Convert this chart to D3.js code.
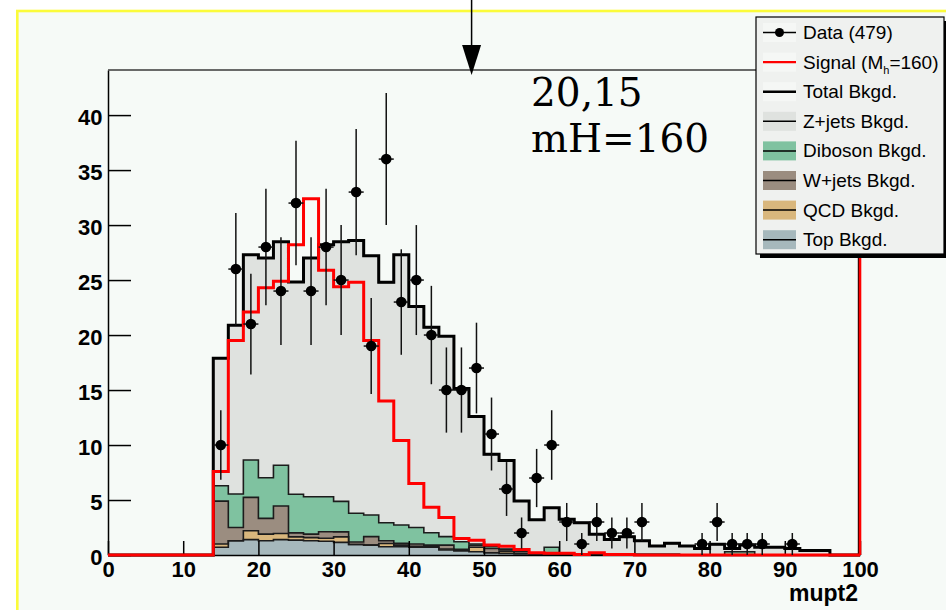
<!DOCTYPE html>
<html><head><meta charset="utf-8">
<script src="https://cdn.jsdelivr.net/npm/d3@7"></script>
<style>
html,body{margin:0;padding:0;background:#fff;}
svg{display:block;}
</style></head>
<body>
<svg id="c" width="946" height="610"></svg>
<script>
// ---- histogram binning: 50 bins of width 2 on mupt2 [0,100] ----
const binWidth = 2;
const binLow = d3.range(0, 100, binWidth);

// observed events per bin (479 total)
const dataCounts = [0,0,0,0,0,0,0,10,26,21,28,24,32,24,28,25,33,19,36,23,25,20,15,15,17,11,6,2,7,10,3,1,3,2,2,3,0,0,0,1,3,1,1,1,0,1,0,0,0,0];

// Higgs signal, M_h = 160
const signalMh160 = [0,0,0,0,0,0,0,7.6,19.5,22.1,24.3,24.9,28.2,32.4,25.9,24.4,24.8,19.5,14.0,10.4,6.5,4.35,3.4,1.5,1.35,0.9,0.8,0.5,0.2,0.15,0.15,0.05,0.2,0.05,0.05,0,0,0,0,0,0,0,0,0,0,0,0,0,0,0];

// background components (stacked bottom to top: Top, QCD, W+jets, Diboson, Z+jets)
const topBkg = [0,0,0,0,0,0,0,0.7,1.3,1.4,1.3,1.4,1.35,1.3,1.25,1.15,0.95,0.9,0.75,0.75,0.7,0.7,0.45,0.4,0.3,0.2,0.15,0.12,0.1,0.1,0.08,0.05,0.05,0.05,0.04,0.04,0.03,0.03,0.02,0.02,0.02,0,0,0,0,0,0,0,0,0];
const qcdBkg = [0,0,0,0,0,0,0,0.3,0,0.8,0.6,0.55,0.3,0.28,0.27,0.5,0,0,0.3,0.15,0.1,0.1,0.1,0,0.4,0,0.2,0,0,0,0,0,0,0,0,0,0,0,0,0,0,0,0,0,0,0,0,0,0,0];
const wjetsBkg = [0,0,0,0,0,0,0,3.9,1.2,3.04,1.43,2.51,0.36,0.32,0.6,0.45,0.23,0.77,0.24,0.16,0.2,0.1,0.35,0.12,0.18,0.4,0.15,0.18,0.05,0.05,0.02,0,0,0,0,0,0,0,0,0,0,0,0,0,0,0,0,0,0,0];
const dibosonBkg = [0,0,0,0,0,0,0,1.4,3.05,3.4,3.7,3.7,3.52,3.4,3.18,2.78,2.61,1.97,1.64,1.67,1.5,1.13,0.77,0.68,0.12,0.2,0.05,0.05,0.05,0.55,0.05,0.05,0.05,0,0,0,0,0,0,0,0,0.3,0.3,0,0,0,0,0,0,0];
const zjetsBkg = [0,0,0,0,0,0,0,11.6,15.35,18.66,19.97,20.32,19.3,21.7,22.9,23.6,24.81,23.56,21.86,24.57,20.1,18.67,18.23,13.95,11.6,8.35,8.05,4.55,3.0,3.6,3.09,2.84,1.78,1.37,1.63,1.26,0.79,1.03,0.8,0.58,0.95,0.3,0.6,0.7,0.7,0.6,0.4,0.4,0,0];

const legendLabels = ["Data (479)", "Signal (M_h=160)", "Total Bkgd.", "Z+jets Bkgd.", "Diboson Bkgd.", "W+jets Bkgd.", "QCD Bkgd.", "Top Bkgd."];
const xTickLabels = d3.range(0, 101, 10);
const yTickLabels = d3.range(0, 41, 5);
const cutValue = 48.35;

// ---- drawing ----
const W = 946, H = 610;
const svg = d3.select('#c');
const x = d3.scaleLinear().domain([0, 100]).range([108, 860]);
const y = d3.scaleLinear().domain([0, 44.1]).range([555, 70]);

const colors = {
  top: '#a6b8bc', qcd: '#d9b77d', wjets: '#9b8d80', diboson: '#7fc2a0', zjets: '#dfe2df'
};

// canvas
svg.append('rect').attr('width', W).attr('height', H).attr('fill', '#fff');
svg.append('rect').attr('x', 17.3).attr('y', 11).attr('width', 1000).attr('height', 1000)
  .attr('fill', '#f6faf7').attr('stroke', '#fbfb3a').attr('stroke-width', 2.6);

// stacked backgrounds
const keys = ['top', 'qcd', 'wjets', 'diboson', 'zjets'];
const rows = binLow.map((lo, i) => ({
  lo, top: topBkg[i], qcd: qcdBkg[i], wjets: wjetsBkg[i], diboson: dibosonBkg[i], zjets: zjetsBkg[i]
}));
const layers = d3.stack().keys(keys)(rows);

function stepPoints(pairs) {
  const pts = pairs.map((p, i) => ({ x: binLow[i], y0: p[0], y1: p[1] }));
  const last = pts[pts.length - 1];
  pts.push({ x: last.x + binWidth, y0: last.y0, y1: last.y1 });
  return pts;
}
const area = d3.area().x(d => x(d.x)).y0(d => y(d.y0)).y1(d => y(d.y1)).curve(d3.curveStepAfter);
const topLine = d3.line().x(d => x(d.x)).y(d => y(d.y1)).curve(d3.curveStepAfter);

const gStack = svg.append('g');
layers.forEach(layer => {
  const pts = stepPoints(layer.map(d => [d[0], d[1]]));
  gStack.append('path').attr('d', area(pts)).attr('fill', colors[layer.key]).attr('stroke', 'none');
});
layers.forEach(layer => {
  const pts = stepPoints(layer.map(d => [d[0], d[1]]));
  gStack.append('path').attr('d', topLine(pts)).attr('fill', 'none')
    .attr('stroke', '#1c1c1c').attr('stroke-width', 1.6);
});

// total background outline
const totalLayer = layers[layers.length - 1];
svg.append('path').attr('d', topLine(stepPoints(totalLayer.map(d => [0, d[1]]))))
  .attr('fill', 'none').attr('stroke', '#000').attr('stroke-width', 3);

// axes (ticks point inward)
const axisFont = g => g.selectAll('text')
  .attr('font-family', '"Liberation Sans", Arial, sans-serif')
  .attr('font-weight', 'bold').attr('font-size', 22).attr('fill', '#000');

const gx = svg.append('g').attr('transform', `translate(0,${y(0)})`);
gx.call(d3.axisBottom(x).tickValues(d3.range(0, 101, 2)).tickSize(-7).tickSizeOuter(0).tickFormat(''));
gx.call(d3.axisBottom(x).tickValues(xTickLabels).tickSize(-14).tickSizeOuter(0).tickPadding(6.5).tickFormat(d3.format('d')));
gx.call(axisFont);
gx.selectAll('line,path').attr('stroke', '#000').attr('stroke-width', 1.5);

const gy = svg.append('g').attr('transform', `translate(${x(0)},0)`);
gy.call(d3.axisLeft(y).tickValues(d3.range(0, 45, 1)).tickSize(-11).tickSizeOuter(0).tickFormat(''));
gy.call(d3.axisLeft(y).tickValues(yTickLabels).tickSize(-23).tickSizeOuter(0).tickPadding(5.5).tickFormat(d3.format('d')));
gy.call(axisFont);
gy.selectAll('text').attr('dy', '0.45em');
gy.selectAll('line,path').attr('stroke', '#000').attr('stroke-width', 1.5);

// frame top and right edge
svg.append('line').attr('x1', x(0)).attr('x2', x(100)).attr('y1', y(44.1)).attr('y2', y(44.1))
  .attr('stroke', '#3a3a3a').attr('stroke-width', 1.6);
svg.append('line').attr('x1', x(100) - 1.5).attr('x2', x(100) - 1.5).attr('y1', y(0)).attr('y2', y(44.1))
  .attr('stroke', '#000').attr('stroke-width', 1.4);

// signal
svg.append('path').attr('d', topLine(stepPoints(signalMh160.map(v => [0, v]))))
  .attr('fill', 'none').attr('stroke', '#ff0000').attr('stroke-width', 3);
svg.append('line').attr('x1', x(100)).attr('x2', x(100)).attr('y1', y(0)).attr('y2', y(44.1))
  .attr('stroke', '#ff0000').attr('stroke-width', 2.6);

// data points with Poisson error bars
const pts = binLow.map((lo, i) => ({ c: lo + binWidth / 2, n: dataCounts[i] })).filter(d => d.n > 0);
const gData = svg.append('g');
gData.selectAll('line.v').data(pts).join('line').attr('class', 'v')
  .attr('x1', d => x(d.c)).attr('x2', d => x(d.c))
  .attr('y1', d => y(d.n - Math.sqrt(d.n))).attr('y2', d => y(d.n + Math.sqrt(d.n)))
  .attr('stroke', '#111').attr('stroke-width', 1.5);
gData.selectAll('line.h').data(pts).join('line').attr('class', 'h')
  .attr('x1', d => x(d.c - binWidth / 2)).attr('x2', d => x(d.c + binWidth / 2))
  .attr('y1', d => y(d.n)).attr('y2', d => y(d.n))
  .attr('stroke', '#111').attr('stroke-width', 1.5);
gData.selectAll('circle').data(pts).join('circle')
  .attr('cx', d => x(d.c)).attr('cy', d => y(d.n)).attr('r', 5.3).attr('fill', '#000');

// x-axis title
svg.append('text').attr('x', 858).attr('y', 601).attr('text-anchor', 'end')
  .attr('font-family', '"Liberation Sans", Arial, sans-serif').attr('font-weight', 'bold')
  .attr('font-size', 23).text('mupt2');

// cut arrow
const ax = x(cutValue);
svg.append('line').attr('x1', ax).attr('x2', ax).attr('y1', 0).attr('y2', 47)
  .attr('stroke', '#000').attr('stroke-width', 1.5);
svg.append('path').attr('d', `M${ax - 9.5},45 L${ax + 9.5},45 L${ax},75 Z`).attr('fill', '#000');

// annotation
const note = svg.append('text').attr('font-family', '"DejaVu Serif", serif').attr('font-size', 39).attr('fill', '#000');
note.append('tspan').attr('x', 531).attr('y', 106).text('20,15');
note.append('tspan').attr('x', 531).attr('y', 152).text('mH=160');

// legend
const lg = svg.append('g');
const lx = 756, ly = 17, lw = 188, lh = 237;
lg.append('rect').attr('x', lx + 4).attr('y', ly + 4).attr('width', lw).attr('height', lh).attr('fill', '#000');
lg.append('rect').attr('x', lx).attr('y', ly).attr('width', lw).attr('height', lh)
  .attr('fill', '#eff1ef').attr('stroke', '#000').attr('stroke-width', 1.2);
const swatchFill = [null, null, null, colors.zjets, colors.diboson, colors.wjets, colors.qcd, colors.top];
legendLabels.forEach((lab, i) => {
  const cy = 32.5 + i * 29.6;
  const sx = 763, sw = 33;
  lg.append('rect').attr('x', sx).attr('y', cy - 9.5).attr('width', sw).attr('height', 19)
    .attr('fill', swatchFill[i] || '#f5f7f5');
  lg.append('line').attr('x1', sx).attr('x2', sx + sw).attr('y1', cy).attr('y2', cy)
    .attr('stroke', i === 1 ? '#ff0000' : '#000').attr('stroke-width', i === 1 || i === 2 ? 2.4 : 1.5);
  if (i === 0) lg.append('circle').attr('cx', sx + sw / 2).attr('cy', cy).attr('r', 4.5).attr('fill', '#000');
  const t = lg.append('text').attr('x', 803).attr('y', cy + 6.5)
    .attr('font-family', '"Liberation Sans", Arial, sans-serif').attr('font-size', 19).attr('fill', '#000');
  if (lab.includes('_')) {
    const [pre, rest] = lab.split('_');
    t.append('tspan').text(pre);
    t.append('tspan').attr('font-size', 11).attr('dy', 5).text(rest[0]);
    t.append('tspan').attr('dy', -5).text(rest.slice(1));
  } else {
    t.text(lab);
  }
});
</script>
</body></html>
